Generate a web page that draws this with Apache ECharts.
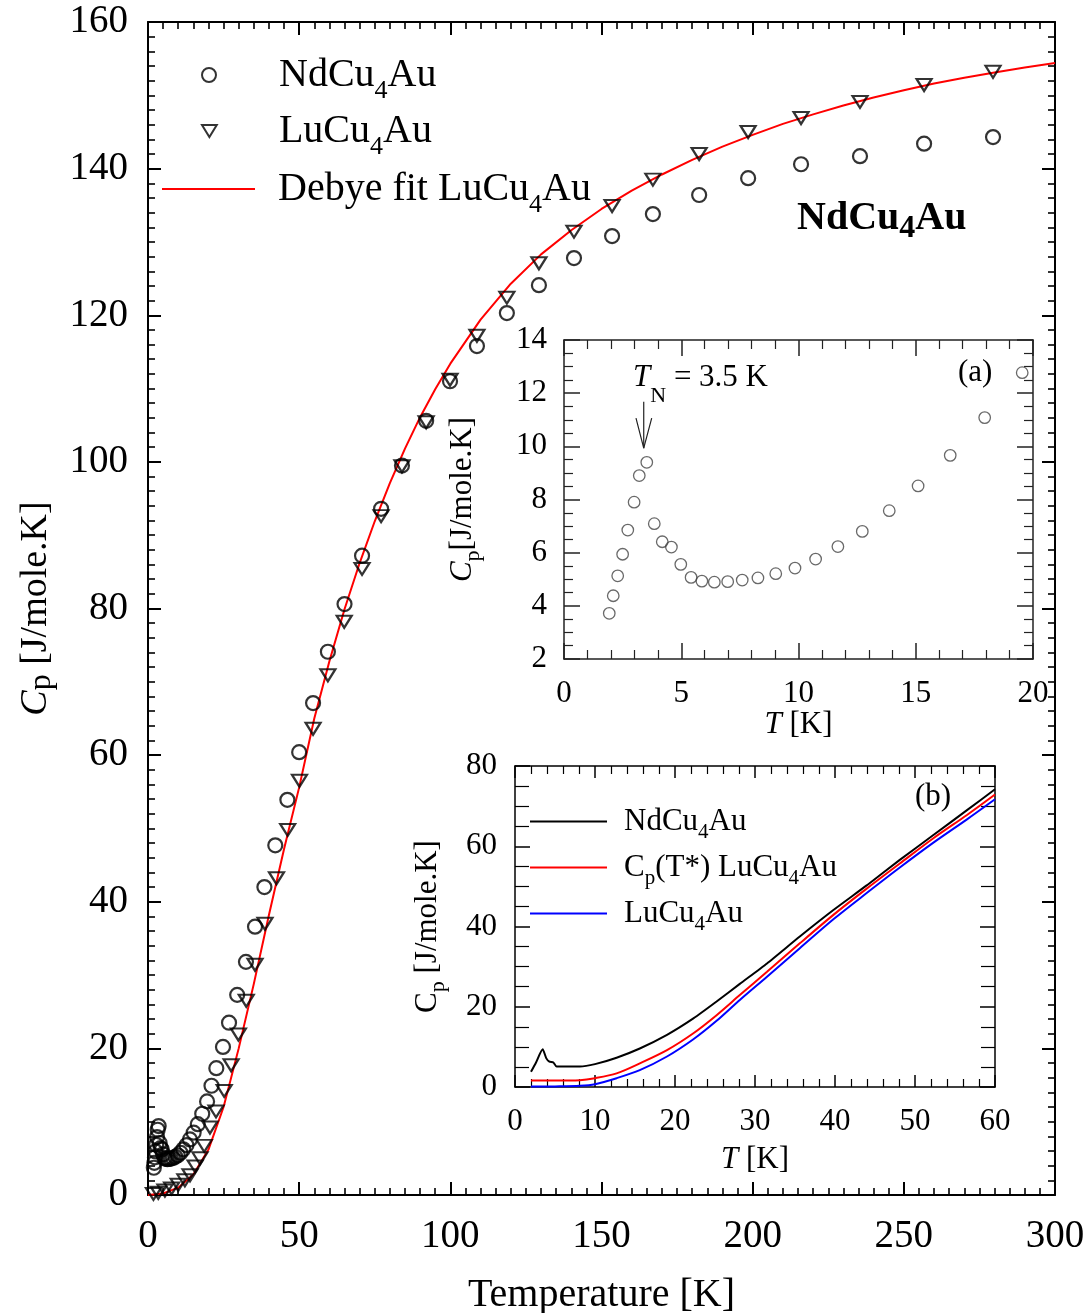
<!DOCTYPE html>
<html>
<head>
<meta charset="utf-8">
<script src="https://cdn.jsdelivr.net/npm/echarts@6/dist/echarts.min.js"></script>
<style>
html, body { margin: 0; padding: 0; background: #fff; }
#chart { width: 1092px; height: 1313px; }
</style>
</head>
<body>
<div id="chart"></div>
<script>
// ---- NdCu4Au specific heat, 2–20 K (inset a, also shown in the main panel)
const ndLowT  = [1.93, 2.10, 2.29, 2.50, 2.72, 2.99, 3.21, 3.53, 3.85, 4.19, 4.58, 4.98, 5.42, 5.88,
                 6.41, 6.98, 7.60, 8.27, 9.03, 9.85, 10.73, 11.68, 12.72, 13.87, 15.10, 16.47, 17.94, 19.54];
const ndLowCp = [3.72, 4.38, 5.13, 5.94, 6.85, 7.90, 8.90, 9.40, 7.09, 6.41, 6.21, 5.56, 5.07, 4.93,
                 4.89, 4.91, 4.97, 5.05, 5.21, 5.42, 5.76, 6.23, 6.80, 7.58, 8.51, 9.66, 11.08, 12.77];
// ---- NdCu4Au above 20 K
const ndHighT  = [21.0, 22.6, 24.8, 26.8, 29.5, 32.4, 35.4, 38.5, 42.1, 46.1, 50.0, 54.6, 59.5, 65.0,
                  70.8, 77.1, 84.0, 92.0, 99.9, 108.8, 118.7, 129.3, 140.9, 153.5, 167.0, 182.3, 198.5,
                  216.0, 235.5, 256.7, 279.5];
const ndHighCp = [14.9, 17.3, 20.2, 23.5, 27.3, 31.8, 36.6, 42.0, 47.7, 53.9, 60.4, 67.1, 74.1, 80.6,
                  87.2, 93.6, 99.5, 105.6, 111.0, 115.8, 120.3, 124.1, 127.8, 130.8, 133.8, 136.4, 138.7,
                  140.6, 141.7, 143.4, 144.3];
// ---- LuCu4Au specific heat
const luT  = [1.8, 3.4, 5.6, 7.8, 10.0, 12.2, 13.9, 15.6, 17.2, 18.6, 20.5, 22.5, 25.2, 27.5, 29.9, 32.5,
              35.4, 38.7, 42.5, 46.2, 50.1, 54.6, 59.5, 64.9, 70.8, 77.1, 84.0, 92.0, 99.9, 108.8, 118.7,
              129.3, 140.9, 153.5, 167.0, 182.3, 198.5, 216.0, 235.5, 256.7, 279.5];
const luCp = [0.15, 0.3, 0.6, 0.9, 1.4, 2.0, 2.7, 3.9, 5.0, 6.7, 9.2, 11.4, 14.2, 17.7, 21.9, 26.5,
              31.4, 37.0, 43.2, 49.8, 56.5, 63.6, 70.9, 78.2, 85.4, 92.6, 99.4, 105.4, 111.2, 117.2, 122.4,
              127.1, 131.4, 134.9, 138.5, 142.0, 145.0, 146.9, 149.1, 151.4, 153.2];
// ---- Debye fit of LuCu4Au
const fitT  = [0, 5, 10, 15, 20, 25, 30, 35, 40, 45, 50, 55, 60, 65, 70, 75, 80, 85, 90, 95, 100,
               110, 120, 130, 140, 150, 160, 170, 180, 190, 200, 210, 220, 230, 240, 250, 260, 270, 280, 290, 300];
const fitCp = [0, 0.2, 1.0, 2.8, 6.2, 12.0, 20.0, 28.8, 38.2, 47.2, 55.6, 65.0, 72.8, 79.9, 86.2, 91.9,
               97.1, 101.8, 106.1, 109.9, 113.4, 119.4, 124.3, 128.3, 131.6, 134.5, 137.0, 139.2, 141.2,
               143.0, 144.6, 146.1, 147.4, 148.6, 149.7, 150.7, 151.6, 152.4, 153.1, 153.8, 154.4];
// ---- Inset b curves, 0–60 K
const bNdT  = [2.0, 2.6, 3.46, 3.9, 4.3, 4.8, 5.2, 6.5, 8.1, 10.0, 12.7, 15.6, 19.0, 22.3, 25.2, 28.1,
               31.5, 35.6, 39.8, 44.0, 48.1, 52.3, 56.5, 60.0];
const bNdCp = [3.8, 6.0, 9.4, 7.2, 6.3, 6.1, 5.1, 5.1, 5.1, 5.7, 7.3, 9.6, 13.0, 17.1, 21.3, 25.7,
               30.8, 37.5, 44.1, 50.3, 56.6, 62.8, 69.0, 74.2];
const bT       = [2.0, 5.0, 8.1, 10.0, 12.7, 15.6, 19.0, 22.3, 25.2, 28.1, 31.5, 35.6, 39.8, 44.0, 48.1,
                  52.3, 56.5, 60.0];
const bStarCp  = [1.6, 1.6, 1.7, 2.2, 3.4, 5.9, 9.2, 13.4, 17.9, 22.9, 28.7, 35.8, 42.9, 49.5, 55.7,
                  62.0, 67.8, 72.9];
const bLuCp    = [0.1, 0.15, 0.3, 0.7, 2.2, 4.2, 7.6, 11.9, 16.5, 21.7, 27.5, 34.6, 41.8, 48.4, 54.7,
                  60.9, 66.7, 71.7];
// ---- T_N arrow (inset a, data coordinates)
const arrowShaft = [[3.4, 11.68], [3.4, 9.93]];
const arrowHead  = [[3.07, 11.06], [3.4, 9.93], [3.74, 11.06]];

const zip = (xs, ys) => xs.map((x, i) => [x, ys[i]]);
const serif = 'Liberation Serif';
const downTri = 'path://M0,0L16,0L8,13Z';

function axis(o) {
  const c = o.color || '#000';
  return {
    gridIndex: o.grid, type: 'value', min: o.min, max: o.max, interval: o.interval,
    position: o.position,
    axisLine: { show: true, onZero: false, lineStyle: { color: c, width: o.lw } },
    axisTick: { show: true, inside: true, length: o.major, lineStyle: { color: c, width: o.lw } },
    minorTick: { show: true, splitNumber: o.minorSplit, length: o.minor, lineStyle: { color: c, width: o.lw * 0.8 } },
    splitLine: { show: false },
    minorSplitLine: { show: false },
    axisLabel: o.labels ? { show: true, fontFamily: serif, fontSize: o.fs, color: '#000', margin: o.margin,
                            showMinLabel: true, showMaxLabel: true, hideOverlap: false }
                        : { show: false },
    name: o.name ? o.name.text : '',
    nameLocation: 'middle',
    nameGap: o.name ? o.name.gap : 0,
    nameMoveOverlap: false,
    nameTextStyle: o.name ? { rich: o.name.rich, fontFamily: serif, color: '#000' } : {},
    silent: true
  };
}

const mainRich = {
  ci: { fontFamily: serif, fontSize: 38, fontStyle: 'italic', lineHeight: 40, color: '#000' },
  cp: { fontFamily: serif, fontSize: 32, lineHeight: 32, padding: [12, 0, 0, 0], color: '#000' },
  m:  { fontFamily: serif, fontSize: 38, lineHeight: 40, color: '#000' }
};
const insetRich = {
  ci: { fontFamily: serif, fontSize: 31, fontStyle: 'italic', fontWeight: 'normal', lineHeight: 36, color: '#000' },
  c:  { fontFamily: serif, fontSize: 31, fontWeight: 'normal', lineHeight: 36, color: '#000' },
  s:  { fontFamily: serif, fontSize: 22, fontWeight: 'normal', lineHeight: 22, padding: [20, 0, 0, 0], color: '#000' },
  m:  { fontFamily: serif, fontSize: 31, fontWeight: 'normal', lineHeight: 36, color: '#000' }
};

const xAxes = [
  axis({ grid: 0, min: 0, max: 300, interval: 50, position: 'bottom', lw: 2, major: 13, minor: 7, minorSplit: 10,
         labels: true, fs: 39, margin: 22,
         name: { text: '{m|Temperature [K]}', gap: 77, rich: { m: { fontFamily: serif, fontSize: 40, lineHeight: 46, color: '#000' } } } }),
  axis({ grid: 0, min: 0, max: 300, interval: 50, position: 'top', lw: 2, major: 13, minor: 7, minorSplit: 10 }),
  axis({ grid: 1, min: 0, max: 20, interval: 5, position: 'bottom', lw: 1.5, major: 16, minor: 9, minorSplit: 5,
         color: '#222', labels: true, fs: 31, margin: 19,
         name: { text: '{ci|T}{m| [K]}', gap: 48, rich: insetRich } }),
  axis({ grid: 1, min: 0, max: 20, interval: 5, position: 'top', lw: 1.5, major: 16, minor: 9, minorSplit: 5, color: '#222' }),
  axis({ grid: 2, min: 0, max: 60, interval: 10, position: 'bottom', lw: 1.5, major: 12, minor: 8, minorSplit: 5,
         labels: true, fs: 31, margin: 19,
         name: { text: '{ci|T}{m| [K]}', gap: 55, rich: insetRich } }),
  axis({ grid: 2, min: 0, max: 60, interval: 10, position: 'top', lw: 1.5, major: 12, minor: 8, minorSplit: 5 })
];
const yAxes = [
  axis({ grid: 0, min: 0, max: 160, interval: 20, position: 'left', lw: 2, major: 13, minor: 7, minorSplit: 10,
         labels: true, fs: 39, margin: 20,
         name: { text: '{ci|C}{cp|p}{m| [J/mole.K]}', gap: 92, rich: mainRich } }),
  axis({ grid: 0, min: 0, max: 160, interval: 20, position: 'right', lw: 2, major: 13, minor: 7, minorSplit: 10 }),
  axis({ grid: 1, min: 2, max: 14, interval: 2, position: 'left', lw: 1.5, major: 16, minor: 9, minorSplit: 4,
         color: '#222', labels: true, fs: 31, margin: 17,
         name: { text: '{ci|C}{s|p}{m|[J/mole.K]}', gap: 83, rich: insetRich } }),
  axis({ grid: 1, min: 2, max: 14, interval: 2, position: 'right', lw: 1.5, major: 16, minor: 9, minorSplit: 4, color: '#222' }),
  axis({ grid: 2, min: 0, max: 80, interval: 20, position: 'left', lw: 1.5, major: 15, minor: 14, minorSplit: 4,
         labels: true, fs: 31, margin: 18,
         name: { text: '{c|C}{s|p}{m| [J/mole.K]}', gap: 69, rich: insetRich } }),
  axis({ grid: 2, min: 0, max: 80, interval: 20, position: 'right', lw: 1.5, major: 15, minor: 14, minorSplit: 4 })
];

// legend text with subscripts; `pad` sets the gap between icon and text
function legRich(big, pad) {
  const fs = big ? 40 : 31, lh = big ? 44 : 36, sfs = big ? 26 : 21, sp = big ? 32 : 22;
  return {
    m0: { fontFamily: serif, fontSize: fs, lineHeight: lh, color: '#000', padding: [0, 0, 0, pad] },
    m:  { fontFamily: serif, fontSize: fs, lineHeight: lh, color: '#000' },
    s:  { fontFamily: serif, fontSize: sfs, lineHeight: sfs, padding: [sp, 0, 0, 0], color: '#000' }
  };
}
const legendText = {
  'NdCu4Au': '{m0|NdCu}{s|4}{m|Au}',
  'LuCu4Au': '{m0|LuCu}{s|4}{m|Au}',
  'Debye fit LuCu4Au': '{m0|Debye fit LuCu}{s|4}{m|Au}',
  'NdCu4Au curve': '{m0|NdCu}{s|4}{m|Au}',
  'Cp(T*) LuCu4Au': '{m0|C}{s|p}{m|(T*) LuCu}{s|4}{m|Au}',
  'LuCu4Au curve': '{m0|LuCu}{s|4}{m|Au}'
};
function legend(item, left, top, w, h, rich) {
  return {
    data: [item], left: left, top: top, padding: 0, itemWidth: w, itemHeight: h,
    selectedMode: false, orient: 'vertical',
    formatter: n => legendText[n],
    textStyle: { rich: rich, color: '#000' }
  };
}

const openMark = { color: 'rgba(0,0,0,0)', borderColor: '#000', borderWidth: 2.2 };

const option = {
  backgroundColor: '#fff',
  animation: false,
  grid: [
    { left: 148, top: 22, width: 907, height: 1173, outerBoundsMode: 'none', containLabel: false },
    { left: 564, top: 340, width: 469, height: 319, outerBoundsMode: 'none', containLabel: false },
    { left: 515, top: 766, width: 480, height: 321, outerBoundsMode: 'none', containLabel: false }
  ],
  xAxis: xAxes,
  yAxis: yAxes,
  title: [
    { text: '{b|NdCu}{bs|4}{b|Au}', left: 797, top: 197, padding: 0,
      textStyle: { rich: {
        b:  { fontFamily: serif, fontSize: 40, fontWeight: 'bold', lineHeight: 44, color: '#000' },
        bs: { fontFamily: serif, fontSize: 32, fontWeight: 'bold', lineHeight: 32, padding: [20, 0, 0, 0], color: '#000' }
      } } },
    { text: '{m|(a)}', left: 958, top: 355, padding: 0, textStyle: { fontWeight: 'normal', rich: insetRich } },
    { text: '{m|(b)}', left: 915, top: 779, padding: 0, textStyle: { fontWeight: 'normal', rich: insetRich } },
    { text: '{ci|T}{n|N}{m| = 3.5 K}', left: 633, top: 360, padding: 0,
      textStyle: { fontWeight: 'normal', rich: {
        ci: insetRich.ci, m: insetRich.m,
        n: { fontFamily: serif, fontSize: 22, fontWeight: 'normal', lineHeight: 22, padding: [36, 0, 0, 0], color: '#000' }
      } } }
  ],
  legend: [
    legend({ name: 'NdCu4Au' }, 201, 46, 14, 14, legRich(true, 58)),
    legend({ name: 'LuCu4Au' }, 201, 102, 15, 12, legRich(true, 57)),
    legend({ name: 'Debye fit LuCu4Au', icon: 'rect' }, 162, 160, 93, 2, legRich(true, 18)),
    legend({ name: 'NdCu4Au curve', icon: 'rect' }, 530, 800, 77, 2, legRich(false, 12)),
    legend({ name: 'Cp(T*) LuCu4Au', icon: 'rect' }, 530, 846, 77, 2, legRich(false, 12)),
    legend({ name: 'LuCu4Au curve', icon: 'rect' }, 530, 892, 77, 2, legRich(false, 12))
  ],
  series: [
    { name: 'Debye fit LuCu4Au', type: 'line', xAxisIndex: 0, yAxisIndex: 0, data: zip(fitT, fitCp),
      showSymbol: false, symbol: 'none', smooth: false,
      lineStyle: { color: '#ff0000', width: 2 }, itemStyle: { color: '#ff0000' }, silent: true, z: 2 },
    { name: 'NdCu4Au', type: 'scatter', xAxisIndex: 0, yAxisIndex: 0,
      data: zip(ndLowT.concat(ndHighT), ndLowCp.concat(ndHighCp)),
      symbol: 'circle', symbolSize: 14, itemStyle: openMark, silent: true, z: 3 },
    { name: 'LuCu4Au', type: 'scatter', xAxisIndex: 0, yAxisIndex: 0, data: zip(luT, luCp),
      symbol: downTri, symbolSize: [15, 12], itemStyle: openMark, silent: true, z: 3 },

    { name: 'inset-a', type: 'scatter', xAxisIndex: 2, yAxisIndex: 2, data: zip(ndLowT, ndLowCp),
      symbol: 'circle', symbolSize: 11.5,
      itemStyle: { color: 'rgba(0,0,0,0)', borderColor: '#444', borderWidth: 1.3 }, silent: true },
    { name: 'arrow-shaft', type: 'line', xAxisIndex: 2, yAxisIndex: 2, data: arrowShaft,
      symbol: 'none', lineStyle: { color: '#222', width: 1.2 }, silent: true },
    { name: 'arrow-head', type: 'line', xAxisIndex: 2, yAxisIndex: 2, data: arrowHead,
      symbol: 'none', lineStyle: { color: '#222', width: 1.2 }, silent: true },

    { name: 'NdCu4Au curve', type: 'line', xAxisIndex: 4, yAxisIndex: 4, data: zip(bNdT, bNdCp),
      symbol: 'none', smooth: 0.2, lineStyle: { color: '#000', width: 2 }, itemStyle: { color: '#000' }, silent: true },
    { name: 'Cp(T*) LuCu4Au', type: 'line', xAxisIndex: 4, yAxisIndex: 4, data: zip(bT, bStarCp),
      symbol: 'none', smooth: 0.3, lineStyle: { color: '#ff0000', width: 2 }, itemStyle: { color: '#ff0000' }, silent: true },
    { name: 'LuCu4Au curve', type: 'line', xAxisIndex: 4, yAxisIndex: 4, data: zip(bT, bLuCp),
      symbol: 'none', smooth: 0.3, lineStyle: { color: '#0000ff', width: 2 }, itemStyle: { color: '#0000ff' }, silent: true }
  ]
};

const chart = echarts.init(document.getElementById('chart'), null, { renderer: 'canvas' });
chart.setOption(option);
</script>
</body>
</html>
